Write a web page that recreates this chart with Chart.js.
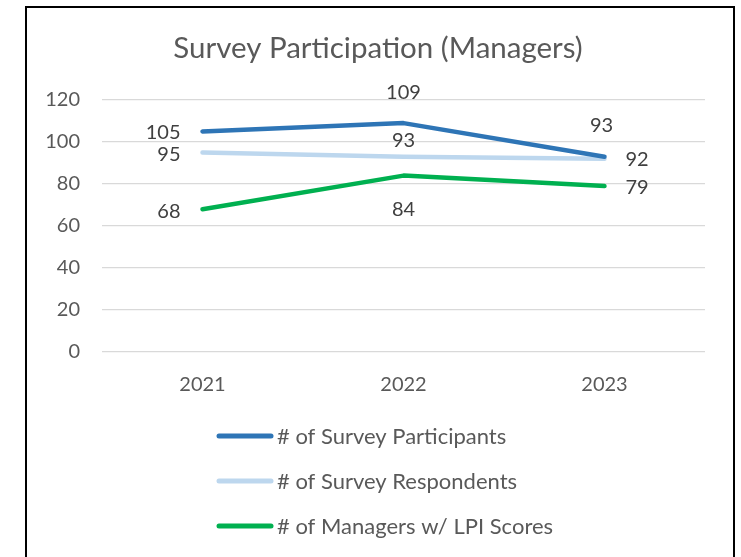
<!DOCTYPE html>
<html>
<head>
<meta charset="utf-8">
<script src="https://cdn.jsdelivr.net/npm/chart.js@4.4.1/dist/chart.umd.min.js"></script>
<style>
  html, body { margin: 0; padding: 0; background: #ffffff; }
  #wrap { position: relative; width: 741px; height: 557px; overflow: hidden; }
  #frame { position: absolute; left: 25px; top: 6px; width: 710px; height: 600px; border: 2px solid #000; box-sizing: border-box; pointer-events: none; }
  canvas { position: absolute; left: 0; top: 0; }
</style>
</head>
<body>
<div id="wrap">
  <canvas id="c" width="741" height="557"></canvas>
  <div id="frame"></div>
</div>
<script>
// ---- data ----
const categories = ['2021', '2022', '2023'];
const surveyParticipants = [105, 109, 93];
const surveyRespondents = [95, 93, 92];
const managersWithLPI = [68, 84, 79];
const seriesNames = ['# of Survey Participants', '# of Survey Respondents', '# of Managers w/ LPI Scores'];
const yTicks = [0, 20, 40, 60, 80, 100, 120];
const chartTitle = 'Survey Participation (Managers)';

// ---- styling ----
const FONT = 'Lato, "Open Sans", sans-serif';
const colors = ['#2E75B6', '#BDD7EE', '#00B050'];
// label placement per series/point: [side, dx, dy]
const labelPlacement = [
  [['left', -22, 1], ['above', 0, -31], ['above', -3, -31]],
  [['left', -22, 2], ['above', 0, -16], ['right', 21, 1]],
  [['left', -22, 2], ['below', 0, 34], ['right', 21, 1]]
];

const labelsPlugin = {
  id: 'pointLabels',
  afterDatasetsDraw(chart) {
    const ctx = chart.ctx;
    ctx.save();
    ctx.font = '20px ' + FONT;
    ctx.fillStyle = '#404040';
    ctx.textBaseline = 'middle';
    chart.data.datasets.forEach((ds, i) => {
      const meta = chart.getDatasetMeta(i);
      meta.data.forEach((pt, j) => {
        const [side, dx, dy] = labelPlacement[i][j];
        ctx.textAlign = side === 'left' ? 'right' : side === 'right' ? 'left' : 'center';
        ctx.fillText(String(ds.data[j]), pt.x + dx, pt.y + dy);
      });
    });
    ctx.restore();
  }
};

const titleLegendPlugin = {
  id: 'titleLegend',
  afterDraw(chart) {
    const ctx = chart.ctx;
    ctx.save();
    ctx.font = '29.5px ' + FONT;
    ctx.fillStyle = '#595959';
    ctx.textAlign = 'center';
    ctx.textBaseline = 'middle';
    ctx.fillText(chartTitle, 378, 48);
    // vertical legend
    const rowY = [436, 481, 526];
    ctx.font = '22px ' + FONT;
    ctx.textAlign = 'left';
    chart.data.datasets.forEach((ds, i) => {
      const y = rowY[i];
      ctx.strokeStyle = ds.borderColor;
      ctx.lineWidth = 5;
      ctx.lineCap = 'round';
      ctx.beginPath();
      ctx.moveTo(219, y);
      ctx.lineTo(271, y);
      ctx.stroke();
      ctx.fillStyle = '#595959';
      ctx.fillText(ds.label, 277, y + 1);
    });
    ctx.restore();
  }
};

const datasets = [surveyParticipants, surveyRespondents, managersWithLPI].map((d, i) => ({
  label: seriesNames[i],
  data: d,
  borderColor: colors[i],
  backgroundColor: colors[i],
  borderWidth: 4.5,
  borderCapStyle: 'round',
  borderJoinStyle: 'round',
  pointRadius: 0,
  pointHoverRadius: 0,
  tension: 0,
  fill: false
}));

new Chart(document.getElementById('c'), {
  type: 'line',
  data: { labels: categories, datasets },
  options: {
    responsive: false,
    animation: false,
    events: [],
    layout: { padding: { top: 100, right: 36, left: 0, bottom: 0 } },
    plugins: {
      legend: { display: false },
      title: { display: false },
      tooltip: { enabled: false }
    },
    scales: {
      x: {
        offset: true,
        grid: { display: false, drawTicks: false },
        border: { display: false },
        ticks: { color: '#595959', font: { family: FONT, size: 20 }, padding: 21 },
        afterFit(scale) { scale.height = 205; }
      },
      y: {
        min: 0,
        max: 120,
        afterBuildTicks(scale) { scale.ticks = yTicks.map(v => ({ value: v })); },
        grid: { color: '#D9D9D9', lineWidth: 1.3, drawTicks: false },
        border: { display: false },
        ticks: { color: '#595959', font: { family: FONT, size: 20 }, padding: 22 },
        afterFit(scale) { scale.width = 102; }
      }
    }
  },
  plugins: [labelsPlugin, titleLegendPlugin]
});
</script>
</body>
</html>
